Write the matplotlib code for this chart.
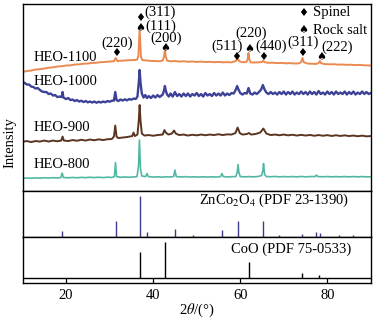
import matplotlib
matplotlib.use('Agg')
import matplotlib.pyplot as plt

plt.rcParams['font.family'] = ['Liberation Serif', 'DejaVu Sans']
plt.rcParams['mathtext.fontset'] = 'stix'

# measured patterns (2theta, intensity offset-stacked, a.u.)
tt_1100 = [10, 11, 12, 13, 14, 15, 16, 17, 18, 19, 20, 21, 22, 23, 24, 25, 26, 27, 28, 29, 30,
           31.0, 31.4, 31.8, 32.5, 33.5, 34.5, 35.5, 36.3, 36.6, 36.9, 37.2, 37.5, 38.5, 39.5, 40.5,
           41.5, 42.2, 42.5, 42.7, 42.9, 43.2, 44, 45, 46, 47, 48, 49, 50, 51, 52, 53, 54, 55, 56,
           57, 58, 59.0, 59.4, 59.8, 60.5, 61.4, 61.7, 61.9, 62.1, 62.4, 63, 64, 65.0, 65.3, 65.6,
           66.5, 67.5, 68.5, 69.5, 70.5, 71.5, 72.5, 73.5, 74.0, 74.3, 74.6, 75.5, 76.5, 77.5, 78.0,
           78.3, 78.6, 79.5, 80.5, 81.5, 82.5, 83.5, 84.5, 85.5, 86.5, 87.5, 88.5, 90]
int_1100 = [118.5, 119.5, 120.0, 121.0, 121.3, 122.0, 122.8, 123.2, 124.0, 124.3, 125.0, 125.2,
            126.0, 126.2, 126.8, 127.0, 127.6, 127.8, 128.4, 128.6, 129.0,
            129.3, 132.5, 129.4, 129.8, 130.0, 130.3, 130.5, 130.8, 134, 161, 134, 130.5, 130.0,
            129.6, 129.5, 129.3, 130, 134, 141.5, 134, 130, 129.2, 129.5, 129.0, 129.2, 128.8, 129.0,
            128.6, 128.9, 128.5, 128.7, 128.3, 128.6, 128.2, 128.4, 128.2, 129.5, 132.0, 129.3, 128.3,
            128.4, 131, 137.5, 131, 128.2, 128.0, 128.1, 128.5, 129.8, 128.3, 127.7, 127.8, 127.4,
            127.6, 127.2, 127.4, 127.0, 127.2, 128.5, 132.5, 128.3, 126.9, 126.8, 126.6, 127.5, 129.5,
            127.2, 126.4, 126.2, 126.3, 125.9, 126.0, 125.7, 125.8, 125.4, 125.6, 125.2, 125.0]

tt_1000 = [10, 10.5, 11, 11.5, 12, 12.5, 13, 13.5, 14, 14.5, 15, 15.5, 16, 16.5, 17, 17.5, 18, 18.5,
           19.0, 19.2, 19.4, 20, 20.5, 21, 21.5, 22, 22.5, 23, 23.5, 24, 24.5, 25, 25.5, 26, 26.5,
           27, 27.5, 28, 28.5, 29, 29.5, 30, 30.5, 31.0, 31.3, 31.6, 32, 32.5, 33, 33.5, 34, 34.5,
           35, 35.5, 36.0, 36.4, 36.7, 36.9, 37.1, 37.4, 37.8, 38.2, 38.6, 39, 39.5, 40, 40.5, 41,
           41.5, 42.2, 42.5, 42.7, 42.9, 43.2, 43.6, 44, 44.5, 45, 45.5, 46, 46.5, 47, 47.5, 48,
           48.5, 49, 49.5, 50, 50.5, 51, 51.5, 52, 52.5, 53, 53.5, 54, 54.5, 55, 55.5, 56, 56.5,
           57, 57.5, 58, 58.5, 59.0, 59.3, 59.6, 60, 60.5, 61, 61.5, 61.9, 62.3, 62.8, 63.3, 63.8,
           64.3, 64.8, 65.2, 65.6, 66, 66.5, 67, 67.5, 68, 68.5, 69, 69.5, 70, 70.5, 71, 71.5, 72,
           72.5, 73, 73.5, 74, 74.5, 75, 75.5, 76, 76.5, 77, 77.5, 78, 78.5, 79, 79.5, 80, 80.5,
           81, 81.5, 82, 82.5, 83, 83.5, 84, 84.5, 85, 85.5, 86, 86.5, 87, 87.5, 88, 88.5, 89,
           89.5, 90]
int_1000 = [109, 107.5, 106, 106, 104, 103.5, 102, 102.5, 100.5, 99, 98.5, 98.5, 96.5, 97, 95, 95.5,
            93.5, 94, 93.5, 98.5, 93, 91.5, 92.5, 90.5, 91, 89.5, 90.5, 89, 89.8, 88.5, 89.5, 88.2,
            89, 88, 89, 87.8, 88.8, 88, 89, 88.3, 89.5, 88.8, 89.8, 90, 98.5, 90.5, 89.5, 91, 90,
            91.2, 90.2, 91.5, 90.8, 92, 91.5, 94, 108, 120.5, 108, 97, 93, 95.5, 92.5, 94.5, 92.5,
            95, 93, 95.5, 93.5, 96, 100, 104.5, 100, 96, 94, 97, 94, 98.5, 94.5, 96.5, 94, 97, 94.5,
            97, 94, 96.5, 95, 97.5, 94.5, 96.5, 94, 97.5, 95, 96.5, 94.5, 97.5, 95, 97, 95, 98, 95,
            97, 95.5, 97.5, 97, 101, 104.5, 101, 97.5, 96, 97.5, 97, 102.5, 97, 96, 98, 96.5, 98.5,
            101, 105.5, 101, 98, 96.5, 98.5, 96.5, 98, 96, 98.5, 96.5, 99, 96, 98.5, 96.5, 99, 96,
            98, 96.5, 99, 96.5, 98.5, 96, 99, 96.5, 98.5, 96, 99.5, 96.5, 98, 96, 99, 96.5, 98.5,
            96, 99, 96.5, 98, 96.5, 99, 96, 98.5, 96.5, 99, 96, 98, 96.5, 99, 96.5, 98.5, 96.5, 97.5]

tt_900 = [10, 11, 12, 13, 14, 15, 16, 17, 18, 18.9, 19.2, 19.5, 20.5, 21.5, 22.5, 23.5, 24.5, 25.5,
          26.5, 27.5, 28.5, 29.5, 30.5, 31.0, 31.3, 31.6, 32, 33, 34, 35.2, 35.5, 35.8, 36.4, 36.7,
          36.9, 37.1, 37.4, 38, 39, 40, 41, 42.2, 42.6, 42.9, 43.5, 44.3, 44.8, 45.2, 46, 47, 48,
          49, 50, 51, 52, 53, 54, 55, 56, 57, 58, 58.9, 59.4, 59.9, 60.5, 61.5, 62, 62.5, 63.5,
          64.6, 65.3, 66, 67, 68, 69, 70, 71, 72, 73, 74, 75, 76, 77, 78, 79, 80, 81, 82, 83, 84,
          85, 86, 87, 88, 89, 90]
int_900 = [48.8, 49.5, 48.5, 49.5, 49, 50, 49, 50, 49.3, 50, 54, 50, 49.5, 50.5, 49.8, 50.8, 50, 51,
           50.3, 51.2, 50.5, 51.3, 51.5, 54, 65, 54, 52.5, 53, 53.5, 54.5, 58, 54.5, 56, 70, 85.5,
           70, 57, 55, 55.5, 54.8, 55.5, 56, 60.5, 58, 56, 57, 60, 57, 55.5, 56, 55, 55.8, 55.2,
           56, 55.3, 56, 55.5, 56.3, 55.5, 56.2, 56, 57.5, 63, 57.5, 56, 56.5, 57.5, 56, 56.5, 58,
           62, 57, 55.5, 56, 55.3, 56, 55.2, 55.8, 55, 55.7, 55, 55.6, 54.8, 55.5, 54.8, 55.4,
           54.6, 55.3, 54.6, 55.2, 54.5, 55, 54.3, 54.9, 54.2, 54.5]

tt_800 = [10, 11, 12, 13, 14, 15, 16, 17, 18, 18.8, 19.1, 19.4, 20.5, 21.5, 22.5, 23.5, 24.5, 25.5,
          26.5, 27.5, 28.5, 29.5, 30.5, 31.1, 31.35, 31.6, 32.5, 33.5, 34.5, 35.5, 36.3, 36.65,
          36.85, 37.1, 37.4, 38.3, 38.6, 38.9, 40, 41, 42, 43, 44, 44.7, 45.0, 45.3, 46.5, 47.5,
          48.5, 49.5, 50.5, 51.5, 52.5, 53.5, 54.5, 55.5, 55.8, 56.1, 57, 58, 59.0, 59.3, 59.5,
          59.7, 60, 61, 62, 63, 64, 64.9, 65.2, 65.35, 65.6, 66, 67, 68, 69, 70, 71, 72, 73, 74,
          75, 76, 77.2, 77.5, 77.8, 79, 80, 81, 82, 83, 84, 85, 86, 87, 88, 89, 90]
int_800 = [12.2, 12.6, 12.3, 12.7, 12.4, 12.8, 12.5, 12.9, 12.6, 13, 17.5, 13, 12.8, 13.1, 12.8, 13.2,
           12.9, 13.3, 13, 13.3, 13, 13.4, 13.1, 14, 28, 14, 13.3, 13.6, 13.3, 13.6, 14, 25, 50.5,
           22, 14.5, 14, 17, 14, 13.5, 13.8, 13.4, 13.8, 13.6, 14, 20.5, 14, 13.6, 13.9, 13.5, 13.8,
           13.5, 13.8, 13.5, 13.8, 13.5, 14, 17, 14, 13.6, 13.9, 14, 18, 26, 18, 14, 13.7, 14, 13.7,
           14, 15, 20, 27, 16, 14, 13.8, 14.1, 13.7, 14, 13.7, 14, 13.7, 14.1, 13.7, 14, 14, 15.5,
           14, 13.8, 14, 13.7, 14, 13.7, 14, 13.7, 14, 13.7, 14, 13.7, 13.8]

# reference cards (2theta, relative intensity)
zn_pos = [19.1, 31.4, 36.9, 38.7, 45.0, 49.2, 55.8, 59.5, 65.3, 68.9, 74.2, 77.4, 78.4, 82.7, 85.9]
zn_int = [5.5, 15.5, 40.5, 5, 8, 1.5, 6.5, 15.5, 15.5, 1.5, 3, 5, 3.5, 2, 2]
coo_pos = [37.0, 42.8, 62.0, 74.3, 78.2]
coo_int = [26.3, 36.3, 16.3, 4.7, 3]

fig = plt.figure(figsize=(3.77, 3.23), dpi=100)
left, width = 0.0597, 0.924
ax = fig.add_axes([left, 0.410, width, 0.5776])
ax_zn = fig.add_axes([left, 0.2678, width, 0.1422], sharex=ax)
ax_co = fig.add_axes([left, 0.1238, width, 0.1440], sharex=ax)

ax.plot(tt_1100, int_1100, color='#ea8a4f', lw=1.4)
ax.plot(tt_1000, int_1000, color='#3d4297', lw=1.7)
ax.plot(tt_900, int_900, color='#5a3522', lw=1.4)
ax.plot(tt_800, int_800, color='#52b8a6', lw=1.2)
ax.set_xlim(10, 90)
ax.set_ylim(0, 186.5)

fs = 10.5
for lab, yv in [('HEO-1100', 133), ('HEO-1000', 109.5), ('HEO-900', 63.5), ('HEO-800', 26.5)]:
    ax.text(12.5, yv, lab, fontsize=fs, va='center', ha='left')

sym = dict(family='DejaVu Sans', fontsize=8, ha='center', va='center')
dia, spade = '\u2666', '\u2660'
for x, y in [(31.55, 137.2), (37.0, 172.5), (59.1, 133.8), (65.25, 133.8), (74.3, 137.8), (74.5, 177.8)]:
    ax.text(x, y, dia, **sym)
for x, y in [(37.0, 162.2), (42.8, 142.2), (62.15, 141.2), (78.5, 133.2), (74.5, 160.5)]:
    ax.text(x, y, spade, **sym)
for lab, x, y in [('(220)', 31.8, 147.5), ('(311)', 41.7, 178.5), ('(111)', 41.7, 164),
                  ('(200)', 42.9, 152.5), ('(511)', 57.0, 144.5), ('(220)', 62.55, 157.5),
                  ('(440)', 67.05, 144.5), ('(311)', 74.4, 148.5), ('(222)', 82.2, 143.5)]:
    ax.text(x, y, lab, fontsize=fs, ha='center', va='center')
ax.text(76.8, 177.8, 'Spinel', fontsize=fs, va='center', ha='left')
ax.text(76.8, 160.5, 'Rock salt', fontsize=fs, va='center', ha='left')

ax_zn.vlines(zn_pos, 0, zn_int, color='#3b3b8c', lw=1.0)
ax_zn.set_ylim(0, 46)
ax_zn.text(85.0, 0.79, 'ZnCo$_2$O$_4$ (PDF 23-1390)', transform=ax_zn.get_xaxis_transform(),
           fontsize=fs, ha='right', va='center')

ax_co.vlines(coo_pos, 0, coo_int, color='black', lw=1.0)
ax_co.axhline(0, color='black', lw=1.0)
ax_co.set_ylim(-5, 41.5)
ax_co.text(85.4, 0.725, 'CoO (PDF 75-0533)', transform=ax_co.get_xaxis_transform(),
           fontsize=fs, ha='right', va='center')

for a in (ax, ax_zn, ax_co):
    a.set_yticks([])
    for s in a.spines.values():
        s.set_linewidth(1.0)
ax.tick_params(axis='x', bottom=False, labelbottom=False)
ax_zn.tick_params(axis='x', bottom=False, labelbottom=False)
ax_co.set_xticks([20, 40, 60, 80])
ax_co.tick_params(axis='x', direction='in', length=3.5, width=0.9, labelsize=fs, pad=4)
ax_co.set_xlabel(r'2$\theta$/(°)', fontsize=fs, labelpad=0)

fig.text(0.027, 1 - 143 / 323, 'Intensity', rotation=90, fontsize=fs, ha='center', va='center')

fig.savefig('out.png', dpi=100)
